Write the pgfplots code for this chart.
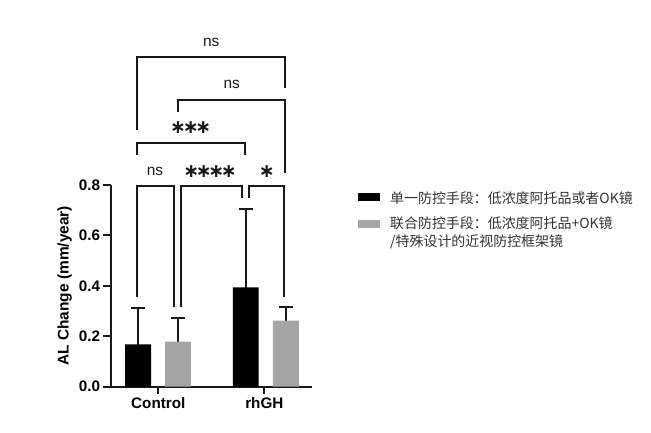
\documentclass[border=0pt]{standalone}
\usepackage{fontspec}
\setmainfont{Liberation Sans}
\newfontfamily\cjk{Noto Sans CJK SC}
\newfontfamily\djv{DejaVu Sans}
\usepackage{pgfplots}
\pgfplotsset{compat=1.18}
\definecolor{barGray}{RGB}{165,165,165}
\definecolor{legText}{RGB}{50,50,50}
\definecolor{lineCol}{RGB}{25,25,25}
\tikzset{brk/.style={line width=2bp, line join=miter, lineCol}}
\newcommand{\ks}{\kern-3.3bp}
\begin{document}
\begin{tikzpicture}
\path[use as bounding box] (0bp,0bp) rectangle (651bp,433bp);
\begin{axis}[
  at={(111bp,46.3bp)}, anchor=south west,
  scale only axis, width=200.7bp, height=201.7bp,
  xmin=-0.446, xmax=1.447, ymin=0, ymax=0.8,
  clip=false,
  axis x line*=bottom, axis y line*=left,
  axis line style={line width=2bp, lineCol},
  tick style={line width=2bp, lineCol},
  tick align=outside,
  major tick length=7.5bp,
  xtick={0,1}, xticklabels={Control,rhGH},
  ytick={0,0.2,0.4,0.6,0.8},
  yticklabels={0.0,0.2,0.4,0.6,0.8},
  tick label style={font=\fontsize{15.3}{15.3}\selectfont\bfseries},
  ylabel={AL Change (mm/year)},
  ylabel style={font=\fontsize{15.5}{15.5}\selectfont\bfseries},
]
% upper error bars: mean + SD, drawn first and covered below by the bars
\addplot[ycomb, lineCol, line width=2.2bp, mark=-, mark size=7bp,
  mark options={line width=2.2bp, lineCol}] coordinates {
  (-0.19,0.313) (0.825,0.704) (0.186,0.274) (1.203,0.315)
};
\addplot[ybar, bar width=0.245, bar shift=0pt, fill=black, draw=none] coordinates {
  (-0.19,0.168) (0.825,0.394)
};
\addplot[ybar, bar width=0.245, bar shift=0pt, fill=barGray, draw=none] coordinates {
  (0.186,0.179) (1.203,0.262)
};
\draw[brk] (axis cs:-0.204,0.357) -- (axis cs:-0.204,0.797) -- (axis cs:0.151,0.797) -- (axis cs:0.151,0.317);
\draw[brk] (axis cs:0.214,0.317) -- (axis cs:0.214,0.797) -- (axis cs:0.792,0.797) -- (axis cs:0.792,0.750);
\draw[brk] (axis cs:0.856,0.750) -- (axis cs:0.856,0.797) -- (axis cs:1.190,0.797) -- (axis cs:1.190,0.357);
\draw[brk] (axis cs:-0.204,0.919) -- (axis cs:-0.204,0.965) -- (axis cs:0.818,0.965) -- (axis cs:0.818,0.919);
\draw[brk] (axis cs:0.183,1.091) -- (axis cs:0.183,1.137) -- (axis cs:1.195,1.137) -- (axis cs:1.195,0.846);
\draw[brk] (axis cs:-0.204,1.018) -- (axis cs:-0.204,1.309) -- (axis cs:1.195,1.309) -- (axis cs:1.195,1.184);
\node[font=\fontsize{15.5}{15.5}\selectfont, text=lineCol] at (axis cs:-0.031,0.853) {ns};
\node[font=\fontsize{15.5}{15.5}\selectfont, text=lineCol] at (axis cs:0.692,1.197) {ns};
\node[font=\fontsize{15.5}{15.5}\selectfont, text=lineCol] at (axis cs:0.499,1.365) {ns};
\node[inner sep=0pt, text=lineCol, font=\djv\bfseries\fontsize{19}{19}\selectfont] at (axis cs:0.488,0.853) {∗\ks∗\ks∗\ks∗};
\node[inner sep=0pt, text=lineCol, font=\djv\bfseries\fontsize{19}{19}\selectfont] at (axis cs:0.306,1.026) {∗\ks∗\ks∗};
\node[inner sep=0pt, text=lineCol, font=\djv\bfseries\fontsize{19}{19}\selectfont] at (axis cs:1.023,0.853) {∗};
\end{axis}
\fill[black] (358.3bp,232bp) rectangle (380bp,240.3bp);
\fill[barGray] (358.3bp,204.7bp) rectangle (380bp,213bp);
\node[anchor=west, inner sep=0pt, text=legText, font=\cjk\fontsize{14}{14}\selectfont] at (390bp,234.7bp) {单一防控手段：低浓度阿托品或者OK镜};
\node[anchor=west, inner sep=0pt, text=legText, font=\cjk\fontsize{14}{14}\selectfont] at (390bp,209.7bp) {联合防控手段：低浓度阿托品+OK镜};
\node[anchor=west, inner sep=0pt, text=legText, font=\cjk\fontsize{14}{14}\selectfont] at (390bp,191.3bp) {/特殊设计的近视防控框架镜};
\end{tikzpicture}
\end{document}
